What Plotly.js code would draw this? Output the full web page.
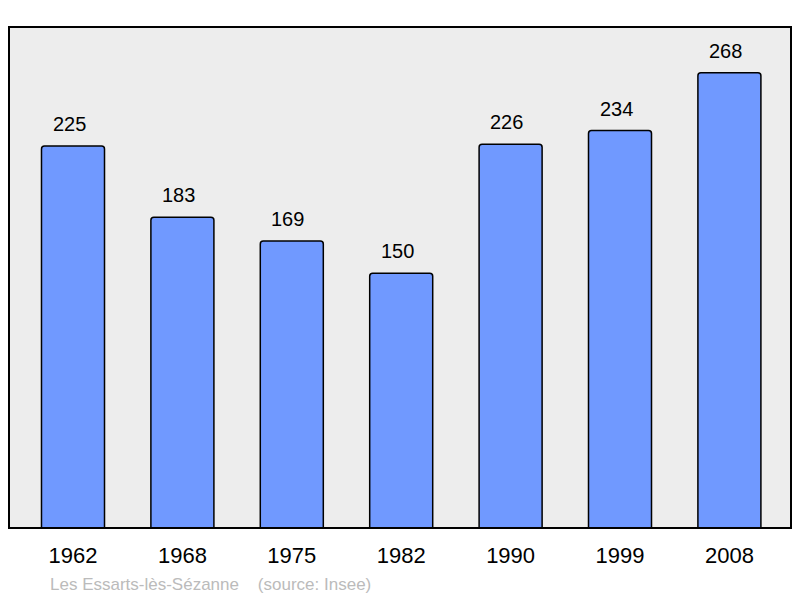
<!DOCTYPE html>
<html><head><meta charset="utf-8">
<script src="https://cdn.plot.ly/plotly-3.0.1.min.js"></script>
<style>html,body{margin:0;padding:0;background:#fff;}#chart{width:800px;height:598px;}</style>
</head><body><div id="chart"></div>
<script>
const years = ['1962','1968','1975','1982','1990','1999','2008'];
const population = [225,183,169,150,226,234,268];
const sourceText = 'Les Essarts-lès-Sézanne&nbsp;&nbsp;&nbsp;&nbsp;(source: Insee)';

const FONT = 'Liberation Sans, Arial, sans-serif';
const annotations = years.map((y,i)=>({
  x: i, y: population[i], xref:'x', yref:'y', text: String(population[i]),
  showarrow:false, yanchor:'bottom', yshift:9, xshift:-4,
  font:{family:FONT, size:20, color:'#000'}
}));
annotations.push({
  xref:'paper', yref:'paper', x:(48-9)/782, y:-(584-528)/501, xanchor:'left', yanchor:'middle',
  text: sourceText, showarrow:false,
  font:{family:FONT, size:17, color:'#bbbbbb'}
});

Plotly.newPlot('chart',[{
  type:'bar', x: years, y: population, width:0.576,
  marker:{color:'#7099ff', line:{color:'#000', width:1.5}, cornerradius:3},
  hoverinfo:'none'
}],{
  width:800, height:598,
  margin:{l:9, r:9, t:27, b:70, pad:0},
  paper_bgcolor:'#ffffff', plot_bgcolor:'#ededed',
  showlegend:false,
  xaxis:{type:'category', range:[-0.585,6.563], showgrid:false, zeroline:false, showline:false,
    ticks:'outside', ticklen:8, tickcolor:'rgba(0,0,0,0)',
    tickfont:{family:FONT, size:22, color:'#000'}},
  yaxis:{range:[0,295], showgrid:false, zeroline:false, showticklabels:false, showline:false, ticks:''},
  annotations: annotations,
  shapes:[{type:'rect', xref:'paper', yref:'paper', x0:0, x1:1, y0:0, y1:1, line:{color:'#000', width:2}, fillcolor:'rgba(0,0,0,0)'}]
},{staticPlot:true});
</script></body></html>
